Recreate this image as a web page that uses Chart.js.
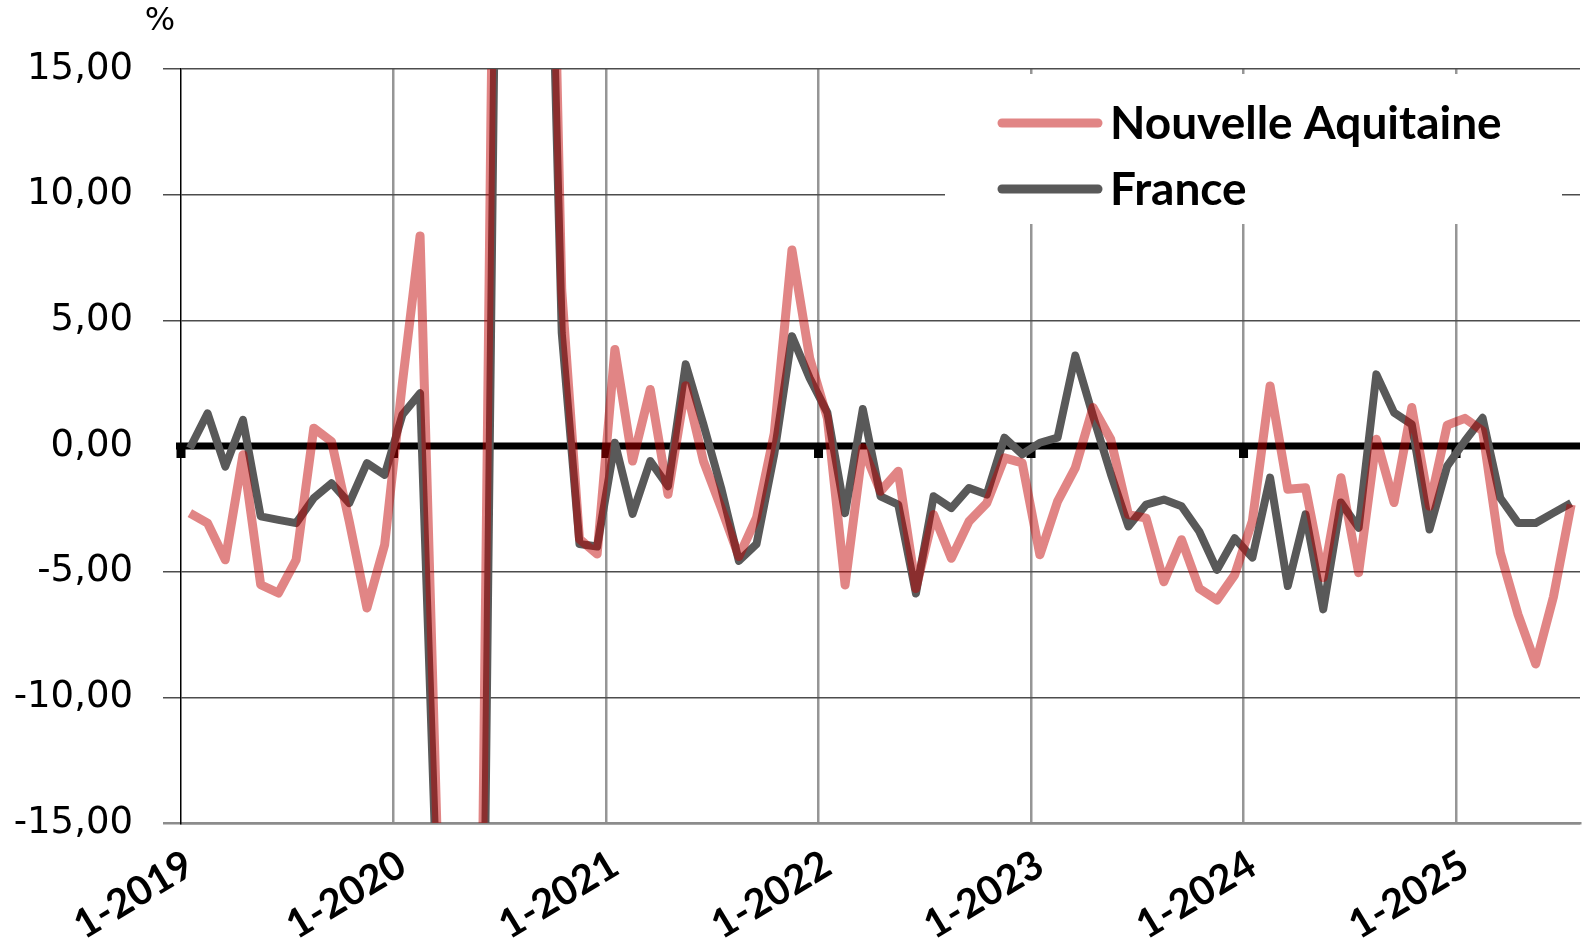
<!DOCTYPE html>
<html>
<head>
<meta charset="utf-8">
<script src="https://cdn.jsdelivr.net/npm/chart.js@4.4.1/dist/chart.umd.min.js"></script>
<style>
  html, body { margin: 0; padding: 0; background: #fff; }
  #wrap { width: 1582px; height: 941px; position: relative; }
</style>
</head>
<body>
<div id="wrap"><canvas id="chart"></canvas></div>
<script>
// Données mensuelles, janvier 2019 -> juillet 2025 (%)
const years = [2019, 2020, 2021, 2022, 2023, 2024, 2025];

const nouvelleAquitaine = [
  -2.67, -3.07, -4.53, -0.35, -5.52, -5.85, -4.53, 0.71, 0.18, -3.0, -6.45, -3.93,
  2.5, 8.36, -16.4, -40, -50, 13, 70, 55, 38, 6.2, -3.7, -4.3,
  3.84, -0.6, 2.25, -1.92, 2.4, -0.6, -2.45, -4.4, -2.85, 0.5, 7.8, 3.5,
  1.1, -5.53, -0.07, -1.8, -1.0, -5.67, -2.73, -4.47, -3.0, -2.27, -0.47, -0.67,
  -4.33, -2.2, -0.87, 1.53, 0.27, -2.73, -2.87, -5.4, -3.73, -5.67, -6.13, -5.13,
  -2.98, 2.39, -1.72, -1.66, -5.24, -1.26, -5.04, 0.27, -2.25, 1.53, -2.4, 0.83,
  1.1, 0.6, -4.25, -6.7, -8.67, -6.0, -2.33
];

const france = [
  -0.09, 1.3, -0.82, 1.04, -2.8, -2.94, -3.07, -2.07, -1.48, -2.27, -0.68, -1.15,
  1.24, 2.1, -18.9, -45, -58, 4, 66, 50, 32, 4.5, -3.9, -4.0,
  0.13, -2.7, -0.6, -1.6, 3.25, 0.86, -1.66, -4.57, -3.9, -0.33, 4.37, 2.7,
  1.33, -2.67, 1.47, -2.0, -2.33, -5.87, -2.0, -2.47, -1.67, -1.93, 0.33, -0.33,
  0.13, 0.33, 3.6, 1.2, -1.1, -3.2, -2.33, -2.13, -2.4, -3.4, -4.93, -3.67,
  -4.44, -1.26, -5.57, -2.72, -6.5, -2.25, -3.25, 2.85, 1.33, 0.86, -3.32, -0.8,
  0.2, 1.12, -2.07, -3.06, -3.06, -2.66, -2.27
];

const yTicks = [-15, -10, -5, 0, 5, 10, 15];

const categories = [];
years.forEach(y => { for (let m = 1; m <= 12; m++) categories.push(m + '-' + y); });
categories.length = france.length;

const RED = 'rgba(192, 0, 0, 0.48)';
const GREY = '#595959';

// axe horizontal épais à zéro + petites graduations annuelles
const zeroAxis = {
  id: 'zeroAxis',
  beforeDatasetsDraw(chart) {
    const { ctx, chartArea, scales: { x, y } } = chart;
    const y0 = y.getPixelForValue(0);
    const step = x.getPixelForValue(1) - x.getPixelForValue(0);
    ctx.save();
    ctx.fillStyle = '#000';
    ctx.fillRect(chartArea.left - 5, y0 - 3.5, chartArea.right - chartArea.left + 5, 7);
    for (let i = 0; i < categories.length; i += 12) {
      const bx = x.getPixelForValue(i) - step / 2;
      ctx.fillRect(bx - 4.5, y0, 9, 12);
    }
    ctx.restore();
  }
};

// légende dans un cadre blanc en haut à droite
const legendBox = {
  id: 'legendBox',
  beforeDatasetsDraw(chart) {
    const ctx = chart.ctx;
    ctx.save();
    ctx.fillStyle = '#fff';
    ctx.fillRect(945, 74, 617, 150);
    chart.data.datasets.forEach((ds, i) => {
      const ly = 123 + i * 66;
      ctx.strokeStyle = ds.borderColor;
      ctx.lineWidth = 9;
      ctx.lineCap = 'round';
      ctx.beginPath();
      ctx.moveTo(1002, ly);
      ctx.lineTo(1098, ly);
      ctx.stroke();
      ctx.fillStyle = '#000';
      ctx.font = 'bold 46px Lato';
      ctx.textBaseline = 'middle';
      ctx.textAlign = 'left';
      ctx.fillText(ds.label, 1110, ly + 1);
    });
    ctx.restore();
  },
  afterDraw(chart) {
    const ctx = chart.ctx;
    ctx.save();
    ctx.fillStyle = '#000';
    ctx.font = '32px "DejaVu Sans"';
    ctx.textAlign = 'center';
    ctx.textBaseline = 'middle';
    ctx.fillText('%', 160, 22);
    ctx.restore();
  }
};

new Chart(document.getElementById('chart'), {
  type: 'line',
  data: {
    labels: categories,
    datasets: [{
      label: 'Nouvelle Aquitaine',
      data: nouvelleAquitaine,
      borderColor: RED,
      borderWidth: 9,
      pointRadius: 0,
      tension: 0,
      borderJoinStyle: 'round',
      clip: 0,
    }, {
      label: 'France',
      data: france,
      borderColor: GREY,
      borderWidth: 8,
      pointRadius: 0,
      tension: 0,
      borderJoinStyle: 'round',
      clip: 0,
    }]
  },
  options: {
    responsive: true,
    maintainAspectRatio: false,
    animation: false,
    devicePixelRatio: 1,
    layout: { padding: { top: 69, right: 2, left: 0, bottom: 0 } },
    plugins: {
      legend: { display: false },
      tooltip: { enabled: false }
    },
    scales: {
      x: {
        type: 'category',
        offset: true,
        afterFit: (s) => { s.height = 118; s.paddingLeft = 0; s.paddingRight = 0; },
        grid: {
          offset: true,
          drawTicks: false,
          color: (c) => (c.index > 0 && c.index % 12 === 0 ? '#969696' : 'rgba(0,0,0,0)'),
          lineWidth: 2.5
        },
        border: { color: '#8c8c8c', width: 2.5 },
        ticks: {
          autoSkip: false,
          minRotation: 31,
          maxRotation: 31,
          padding: 18,
          color: '#000',
          font: { family: 'Lato', weight: 'bold', size: 40 },
          callback: (v, i) => (i % 12 === 0 ? categories[i] : '')
        }
      },
      y: {
        min: -15,
        max: 15,
        afterFit: (s) => { s.width = 181; },
        afterBuildTicks: (s) => { s.ticks = yTicks.map(v => ({ value: v })); },
        grid: {
          color: (c) => {
            if (!c.tick) return 'rgba(0,0,0,0)';
            if (c.tick.value === 0) return 'rgba(0,0,0,0)';
            if (c.tick.value === -15) return '#8c8c8c';
            return '#4d4d4d';
          },
          lineWidth: (c) => (c.tick && c.tick.value === -15 ? 2.5 : 1.5),
          tickLength: 18
        },
        border: { color: '#000', width: 1.5 },
        ticks: {
          padding: 30,
          color: '#000',
          font: { family: 'DejaVu Sans', size: 37 },
          callback: (v) => v.toFixed(2).replace('.', ',')
        }
      }
    }
  },
  plugins: [zeroAxis, legendBox]
});
</script>
</body>
</html>
